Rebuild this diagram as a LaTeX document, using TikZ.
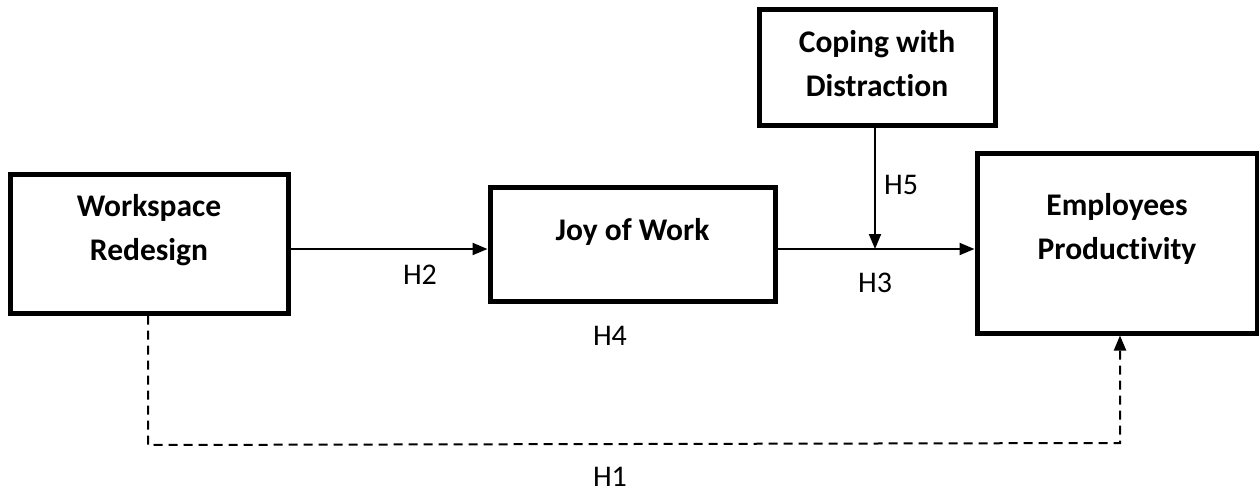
\documentclass[tikz,border=0pt]{standalone}
\usepackage{fontspec}
\setmainfont{Carlito}[Ligatures={NoCommon,NoDiscretionary,NoContextual}]
\usetikzlibrary{arrows.meta}
\begin{document}
\begin{tikzpicture}[x=1pt,y=-1pt,
  box/.style={draw=black,line width=5pt,minimum width=#1,inner sep=0pt},
  boxtext/.style={font=\fontsize{31.5}{44}\selectfont\bfseries,align=center,inner sep=0pt},
  hlab/.style={font=\fontsize{30}{36}\selectfont,inner sep=0pt},
  arr/.style={line width=2pt,-{Triangle[length=15pt,width=12pt]}},
  darr/.style={line width=2pt,dash pattern=on 9pt off 6pt,-{Triangle[length=15pt,width=12pt]}}]
\useasboundingbox (0,0) rectangle (1259,492);
% boxes
\node[box=278pt,minimum height=138pt] (ws) at (149,244) {};
\node[boxtext] (wst) at (149,230) {Workspace\\Redesign};
\node[box=285pt,minimum height=113pt] (joy) at (632.5,244.5) {};
\node[boxtext] (joyt) at (632.5,232) {Joy of Work};
\node[box=236pt,minimum height=116pt] (cop) at (877,68) {};
\node[boxtext] (copt) at (877,64) {Coping with\\Distraction};
\node[box=280pt,minimum height=179pt] (emp) at (1117,243.5) {};
\node[boxtext] (empt) at (1117,229) {Employees\\Productivity};
% helper coordinates
\coordinate (yl) at (0,249);
\coordinate (m) at (875,249);
\coordinate (dl) at (148,445);
\coordinate (dr) at (1120,443);
% connectors
\draw[arr] (ws.east |- yl) -- (joy.west |- yl);
\draw[arr] (joy.east |- yl) -- (emp.west |- yl);
\draw[arr] (m |- cop.south) -- (m);
\draw[darr] (dl |- ws.south) -- (dl) -- (dr) -- (dr |- emp.south);
% labels
\node[hlab] (h2) at (420,275) {H2};
\node[hlab] (h3) at (875,283) {H3};
\node[hlab] (h5) at (901,185) {H5};
\node[hlab] (h4) at (610,336) {H4};
\node[hlab] (h1) at (610,477) {H1};
\end{tikzpicture}
\end{document}
